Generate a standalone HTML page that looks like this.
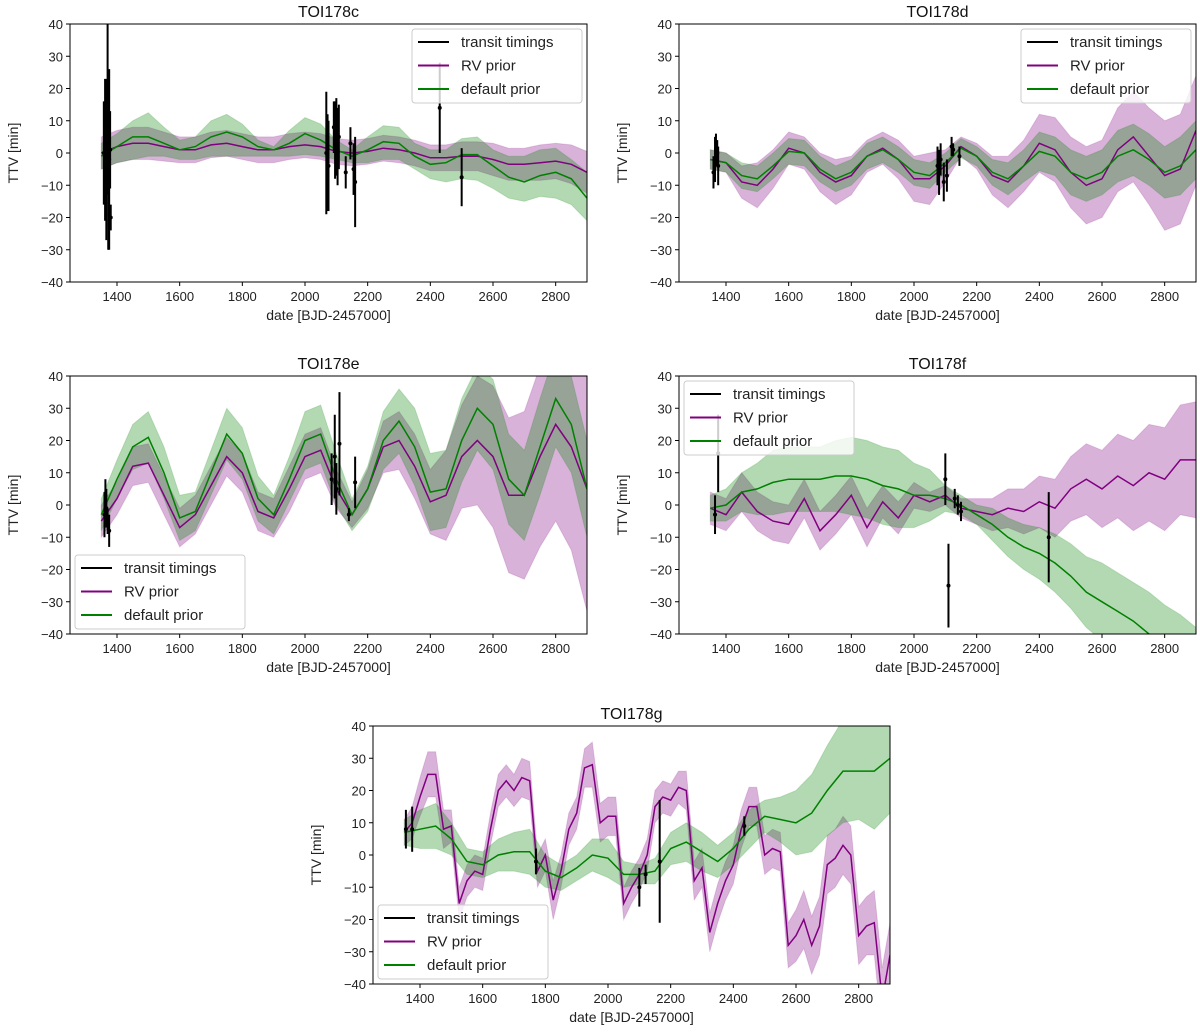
<!DOCTYPE html>
<html><head><meta charset="utf-8"><style>
body{margin:0;background:#fff;}
svg{display:block;font-family:"Liberation Sans","DejaVu Sans",sans-serif;}
</style></head><body>
<svg id="fig" width="1200" height="1035" viewBox="0 0 1200 1035" xmlns="http://www.w3.org/2000/svg"></svg>
<script>
const DATES50=[1350,1400,1450,1500,1550,1600,1650,1700,1750,1800,1850,1900,1950,2000,2050,2100,2150,2200,2250,2300,2350,2400,2450,2500,2550,2600,2650,2700,2750,2800,2850,2900];
const DATES25=[1350,1375,1400,1425,1450,1475,1500,1525,1550,1575,1600,1625,1650,1675,1700,1725,1750,1775,1800,1825,1850,1875,1900,1925,1950,1975,2000,2025,2050,2075,2100,2125,2150,2175,2200,2225,2250,2275,2300,2325,2350,2375,2400,2425,2450,2475,2500,2525,2550,2575,2600,2625,2650,2675,2700,2725,2750,2775,2800,2825,2850,2875,2900];
const X_TICKS=[1400,1600,1800,2000,2200,2400,2600,2800];
const Y_TICKS=[-40,-30,-20,-10,0,10,20,30,40];

// TOI178c
const c_rvMed=[0,2,3,3,2,1,1,2.5,3,2,1,1,2,2.5,2,0.5,0,0.5,1.5,1,0,-1.5,-1.5,-1,-1,-2,-3.5,-3.5,-3,-2.5,-3.5,-6];
const c_rvHw=[5,5,5,5,4.5,4,4,4,4,4,4,4,4,4,4,4,4,4,4,4,4,4,4,4.5,4.5,5,5,5,5.5,5.5,6,6.5];
const c_defMed=[-1,2,5,5,3,1,2,5,6.5,5,2,1,3,6,4,1,-1,1,3.5,3,-1,-3.5,-3,-0.5,-0.5,-4,-7.5,-9,-7,-6,-8,-14];
const c_defHi=[3,6,10,12.5,8,4,5,10,12,9,4,2,7,11,9,4,1,5,8.5,8,3,1,1,4.5,5,1,-1,-1,1,1.5,-2,-6];
const c_defLo=[-5,-3,-2,-1,-1,-2,-2,-1,-1,-1,-1,-1,-1,-0.5,-1,-2,-3,-3,-2,-2,-5,-8,-9,-8,-8.5,-11,-14,-15,-13.5,-14,-16,-21];
const c_obsT=[1358,1362,1366,1368,1370,1372,1375,1378,1380,2068,2072,2075,2092,2096,2100,2104,2108,2130,2145,2155,2160,2430,2500];
const c_obsV=[0,1,-3,5,20,-5,-2,1,-20,0,-3,-4,8,4,5,2,5,-6,3,-5,-9,14,-7.5];
const c_obsE=[16,22,24,18,20,25,28,12,4,19,15,14,8,12,12,12,10,5,5,8,14,14,9];

// TOI178d
const d_rvMed=[-2,-3,-9,-10,-5,1.5,0,-6,-9,-7,-1,1.5,-2,-8,-8,-4,2,-1,-7,-9,-4,3,1,-6,-10,-8,1,5,-1,-7,-5,7];
const d_rvHw=[3,3,5,7,6,5,5,6,7,6,5,5,6,7,8,5,3,4,6,8,8,9,10,11,12,12,13,14,15,17,17,17];
const d_defMed=[-2,-3,-7,-8,-4,0.5,0,-5,-8,-6,-1,1,-2,-6,-7,-3,1.5,-1,-6,-8,-4,0.5,-1,-6,-8,-6,-1,1,-2,-6,-4,1];
const d_defHw=[3,3,4,4,4,4,4,4,4,4,4,4,4,4,4,3,3,3,4,5,5,6,6,7,7,7,8,8,8,8,9,9];
const d_obsT=[1360,1365,1368,1372,1375,2075,2080,2085,2095,2105,2120,2125,2145];
const d_obsV=[-6,-2,1,0,-4,-4,-6,-2,-9,-7,2,1,-1];
const d_obsE=[5,7,5,4,6,6,7,5,6,5,3,2,3];

// TOI178e
const e_rvMed=[-5,2,12,13,3,-7,-3,6,15,10,-2,-4,5,15,17,5,-3,5,18,20,12,1,3,15,20,15,3,3,15,25,18,5];
const e_rvHw=[5,5,6,6,6,6,6,6,6,6,6,6,7,7,7,6,4,6,8,9,10,10,14,16,20,22,24,26,28,30,32,38];
const e_defMed=[-3,8,18,21,10,-4,-2,10,22,16,2,-3,8,20,22,8,-3,5,20,26,18,4,5,20,30,25,8,3,18,33,25,5];
const e_defHw=[5,6,7,8,8,7,6,7,8,8,7,6,7,9,9,8,5,7,9,10,12,12,12,13,13,14,14,14,15,15,15,15];
const e_obsT=[1360,1363,1366,1370,1375,2085,2095,2100,2110,2140,2160];
const e_obsV=[-3,3,-1,-5,-8,8,15,5,19,-3,7];
const e_obsE=[7,5,6,4,5,8,13,8,16,2,8];

// TOI178f
const f_rvMed=[-1,-3,4,-2,-5,-6,2,-8,-3,3,-7,1,-4,3,1,3,-1,-2,-3,-1,-2,1,-1,5,8,5,9,6,10,8,14,14];
const f_rvHw=[5,5,6,6,6,6,6,6,6,6,6,5,5,4,3,3,3,4,5,6,7,8,9,10,11,12,13,14,15,16,17,18];
const f_defMed=[-1,0,4,5,7,8,8,8,9,9,8,6,5,3,3,2,0,-3,-6,-10,-13,-15,-18,-22,-27,-30,-33,-36,-40,-44,-48,-52];
const f_defHw=[4,5,6,8,10,10,10,10,11,12,12,12,12,10,8,4,3,3,5,6,7,8,9,10,11,12,12,12,13,13,14,14];
const f_obsT=[1365,1375,2100,2110,2130,2140,2150,2430];
const f_obsV=[-3,16,8,-25,2,0,-2,-10];
const f_obsE=[6,12,8,13,3,3,3,14];

// TOI178g
const g_rvMed=[7,10,18,25,25,8,9,-15,-8,-5,-6,8,20,23,20,24,23,-5,0,-14,-5,8,13,27,28,10,12,12,-15,-10,-6,0,15,18,17,21,20,-8,-4,-24,-15,-8,-3,8,15,15,0,2,1,-28,-25,-20,-28,-22,-3,-1,3,0,-25,-22,-21,-45,-31];
const g_rvHw=[4,5,6,7,7,6,5,5,5,5,5,5,5,5,5,6,6,5,5,6,5,5,5,6,7,6,6,6,5,5,5,5,5,5,5,5,6,6,6,6,6,6,6,6,6,6,6,6,6,7,8,9,9,9,9,9,9,9,9,9,10,10,10];
const g_defMed=[7,8,9,5,-2,-3,0,1,1,-5,-7,-4,0,-1,-6,-6,-5,2,4,1,-2,2,8,12,11,10,13,20,26,26,26,30];
const g_defHw=[4,6,7,5,4,4,5,6,7,5,4,4,5,6,4,3,4,5,6,6,5,5,6,5,7,10,12,14,16,15,18,17];
const g_obsT=[1355,1375,1770,2100,2120,2165,2435];
const g_obsV=[8,8,-2,-10,-6,-2,9];
const g_obsE=[6,7,4,6,3,19,3];

const NS="http://www.w3.org/2000/svg";
const fig=document.getElementById('fig');
function mk(tag,attrs,parent){const e=document.createElementNS(NS,tag);for(const k in attrs)e.setAttribute(k,attrs[k]);(parent||fig).appendChild(e);return e;}
const W=517,H=258,XMIN=1250,XMAX=2900,YMIN=-40,YMAX=40;

function panel(id,title,L,T,rvD,rvMed,rvLo,rvHi,dfD,dfMed,dfLo,dfHi,oT,oV,oE,leg){
  const sx=v=>L+(v-XMIN)/(XMAX-XMIN)*W;
  const sy=v=>T+(YMAX-v)/(YMAX-YMIN)*H;
  const g=mk('g',{});
  
  
  const cp=mk('clipPath',{id:'cp'+id},g);
  mk('rect',{x:L,y:T,width:W,height:H},cp);
  const pg=mk('g',{'clip-path':'url(#cp'+id+')'},g);
  function band(d,lo,hi,col,name){
    let s='M';
    for(let i=0;i<d.length;i++)s+=sx(d[i]).toFixed(1)+','+sy(hi[i]).toFixed(1)+' L';
    for(let i=d.length-1;i>=0;i--)s+=sx(d[i]).toFixed(1)+','+sy(lo[i]).toFixed(1)+(i?' L':' Z');
    const p=mk('path',{d:s,fill:col,'fill-opacity':0.3,stroke:col,'stroke-opacity':0.15},pg);
    
    
  }
  function line(d,v,col,name){
    const pts=d.map((x,i)=>sx(x).toFixed(1)+','+sy(v[i]).toFixed(1)).join(' ');
    const p=mk('polyline',{points:pts,fill:'none',stroke:col,'stroke-width':1.5},pg);
    
    
  }
  band(rvD,rvLo,rvHi,'#800080','rv-prior-band');
  band(dfD,dfLo,dfHi,'#008000','default-prior-band');
  line(rvD,rvMed,'#800080','rv-prior-line');
  line(dfD,dfMed,'#008000','default-prior-line');
  for(let i=0;i<oT.length;i++){
    const e=mk('line',{x1:sx(oT[i]),x2:sx(oT[i]),y1:sy(oV[i]-oE[i]),y2:sy(oV[i]+oE[i]),stroke:'#000','stroke-width':2},pg);
    
    
    const c=mk('circle',{cx:sx(oT[i]),cy:sy(oV[i]),r:2,fill:'#000'},pg);
    
    
  }
  const fr=mk('rect',{x:L,y:T,width:W,height:H,fill:'none',stroke:'#000','stroke-width':1},g);
  
  
  X_TICKS.forEach(t=>{
    mk('line',{x1:sx(t),x2:sx(t),y1:T+H,y2:T+H+4,stroke:'#000'},g);
    const tx=mk('text',{x:sx(t),y:T+H+19,'font-size':13,'text-anchor':'middle',fill:'#222'},g);
    tx.textContent=t;
    
    
  });
  Y_TICKS.forEach(t=>{
    mk('line',{x1:L-4,x2:L,y1:sy(t),y2:sy(t),stroke:'#000'},g);
    const tx=mk('text',{x:L-7,y:sy(t)+5,'font-size':13,'text-anchor':'end',fill:'#222'},g);
    tx.textContent=t<0?'\u2212'+(-t):t;
    
    
  });
  const ti=mk('text',{x:L+W/2,y:T-7,'font-size':16,'text-anchor':'middle',fill:'#111'},g);
  ti.textContent=title;
  
  
  const xl=mk('text',{x:L+W/2,y:T+H+38,'font-size':14,'text-anchor':'middle',fill:'#222'},g);
  xl.textContent='date [BJD-2457000]';
  
  
  const yl=mk('text',{x:0,y:0,'font-size':14,'text-anchor':'middle',fill:'#222',transform:'translate('+(L-52)+','+(T+H/2)+') rotate(-90)'},g);
  yl.textContent='TTV [min]';
  
  
  // legend
  const lw=170,lh=74;
  let lx,ly;
  if(leg==='ur'){lx=L+W-5-lw;ly=T+5;}
  else if(leg==='ul'){lx=L+5;ly=T+5;}
  else {lx=L+5;ly=T+H-5-lh;}
  const lg=mk('g',{},g);
  
  
  mk('rect',{x:lx,y:ly,width:lw,height:lh,rx:3,fill:'#fff','fill-opacity':0.8,stroke:'#ccc'},lg);
  [['transit timings','#000'],['RV prior','#800080'],['default prior','#008000']].forEach((en,i)=>{
    const yy=ly+13+i*23.5;
    const eg=mk('g',{},lg);
    
    
    mk('line',{x1:lx+6,x2:lx+37,y1:yy,y2:yy,stroke:en[1],'stroke-width':2},eg);
    const t=mk('text',{x:lx+49,y:yy+5,'font-size':15,fill:'#222'},eg);
    t.textContent=en[0];
  });
}
const add=(a,b,s)=>a.map((v,i)=>v+s*b[i]);
panel('c','TOI178c',70,24,DATES50,c_rvMed,add(c_rvMed,c_rvHw,-1),add(c_rvMed,c_rvHw,1),DATES50,c_defMed,c_defLo,c_defHi,c_obsT,c_obsV,c_obsE,'ur');
panel('d','TOI178d',679,24,DATES50,d_rvMed,add(d_rvMed,d_rvHw,-1),add(d_rvMed,d_rvHw,1),DATES50,d_defMed,add(d_defMed,d_defHw,-1),add(d_defMed,d_defHw,1),d_obsT,d_obsV,d_obsE,'ur');
panel('e','TOI178e',70,376,DATES50,e_rvMed,add(e_rvMed,e_rvHw,-1),add(e_rvMed,e_rvHw,1),DATES50,e_defMed,add(e_defMed,e_defHw,-1),add(e_defMed,e_defHw,1),e_obsT,e_obsV,e_obsE,'ll');
panel('f','TOI178f',679,376,DATES50,f_rvMed,add(f_rvMed,f_rvHw,-1),add(f_rvMed,f_rvHw,1),DATES50,f_defMed,add(f_defMed,f_defHw,-1),add(f_defMed,f_defHw,1),f_obsT,f_obsV,f_obsE,'ul');
panel('g','TOI178g',373,726,DATES25,g_rvMed,add(g_rvMed,g_rvHw,-1),add(g_rvMed,g_rvHw,1),DATES50,g_defMed,add(g_defMed,g_defHw,-1),add(g_defMed,g_defHw,1),g_obsT,g_obsV,g_obsE,'ll');
</script>
</body></html>
